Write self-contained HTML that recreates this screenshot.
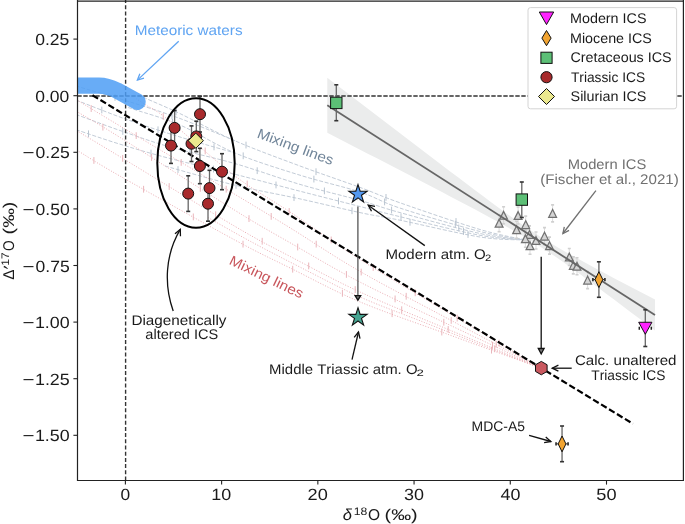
<!DOCTYPE html>
<html><head><meta charset="utf-8"><style>
html,body{margin:0;padding:0;background:#fff;}
body{width:685px;height:524px;overflow:hidden;position:relative;font-family:"Liberation Sans",sans-serif;}
svg{position:absolute;left:0;top:0;}
svg text{font-family:"Liberation Sans",sans-serif;text-rendering:geometricPrecision;font-kerning:none;}
svg{-webkit-font-smoothing:antialiased;will-change:transform;}
</style></head><body>
<svg width="685" height="524" viewBox="0 0 685 524">
<defs><clipPath id="pc"><rect x="77.5" y="0" width="606" height="480.5"/></clipPath></defs>
<rect width="685" height="524" fill="#fff"/>
<g clip-path="url(#pc)">
<polygon fill="#ebecec" points="327.3,77.64 335.49,83.91 343.69,90.18 351.88,96.45 360.07,102.72 368.26,108.99 376.45,115.25 384.65,121.51 392.84,127.77 401.03,134.02 409.23,140.27 417.42,146.52 425.61,152.76 433.8,158.99 442,165.21 450.19,171.42 458.38,177.62 466.57,183.79 474.76,189.95 482.96,196.08 491.15,202.16 499.34,208.19 507.53,214.15 515.73,220.01 523.92,225.73 532.11,231.28 540.3,236.63 548.5,241.76 556.69,246.69 564.88,251.45 573.08,256.08 581.27,260.61 589.46,265.07 597.65,269.47 605.85,273.84 614.04,278.18 622.23,282.49 630.42,286.79 638.62,291.07 646.81,295.34 655,299.61 655,330.58 646.81,324.35 638.62,318.12 630.42,311.91 622.23,305.71 614.04,299.53 605.85,293.38 597.65,287.25 589.46,281.16 581.27,275.12 573.08,269.16 564.88,263.29 556.69,257.56 548.5,251.99 540.3,246.63 532.11,241.48 523.92,236.54 515.73,231.77 507.53,227.13 499.34,222.59 491.15,218.13 482.96,213.72 474.76,209.35 466.57,205.01 458.38,200.7 450.19,196.4 442,192.12 433.8,187.84 425.61,183.58 417.42,179.32 409.23,175.07 401.03,170.83 392.84,166.59 384.65,162.35 376.45,158.12 368.26,153.89 360.07,149.66 351.88,145.43 343.69,141.21 335.49,136.98 327.3,132.76"/>
<path d="M138,95 C139.3,95.57 138.8,95.3 145.8,98.4 C152.8,101.5 165.13,106.53 180,113.6 C194.87,120.67 215,132.07 235,140.8 C255,149.53 279.17,158.23 300,166 C320.83,173.77 343.33,181.27 360,187.4 C376.67,193.53 380,195.78 400,202.8 C420,209.82 459,223.3 480,229.5 C501,235.7 518.33,238.25 526,240" fill="none" stroke="#c3ccd7" stroke-width="1" stroke-dasharray="4 1.7"/>
<path d="M128,107.5 C129.22,107.88 126.63,106.88 135.3,109.8 C143.97,112.72 163.38,117.8 180,125 C196.62,132.2 215,144.63 235,153 C255,161.37 279.17,168.7 300,175.2 C320.83,181.7 343.33,186.52 360,192 C376.67,197.48 380,201.52 400,208.1 C420,214.68 459,226.18 480,231.5 C501,236.82 518.33,238.58 526,240" fill="none" stroke="#c3ccd7" stroke-width="1" stroke-dasharray="4 1.7"/>
<path d="M60,108.6 C62.83,109.63 67,111.15 77,114.8 C87,118.45 104.5,125.13 120,130.5 C135.5,135.87 150.83,141.48 170,147 C189.17,152.52 213.33,157.37 235,163.6 C256.67,169.83 279.17,178.27 300,184.4 C320.83,190.53 343.33,195.7 360,200.4 C376.67,205.1 380,207.08 400,212.6 C420,218.12 459,228.93 480,233.5 C501,238.07 518.33,238.92 526,240" fill="none" stroke="#c3ccd7" stroke-width="1" stroke-dasharray="4 1.7"/>
<path d="M60,124.2 C62.83,125.17 67,126.67 77,130 C87,133.33 104.5,139.45 120,144.2 C135.5,148.95 150.83,153.48 170,158.5 C189.17,163.52 213.33,168.85 235,174.3 C256.67,179.75 279.17,185.83 300,191.2 C320.83,196.57 343.33,202.25 360,206.5 C376.67,210.75 380,211.9 400,216.7 C420,221.5 459,231.42 480,235.3 C501,239.18 518.33,239.22 526,240" fill="none" stroke="#c3ccd7" stroke-width="1" stroke-dasharray="4 1.7"/>
<path d="M165,166 C176.67,169.2 212.5,179.72 235,185.2 C257.5,190.68 279.17,194.33 300,198.9 C320.83,203.47 343.33,209.05 360,212.6 C376.67,216.15 380,216.13 400,220.2 C420,224.27 459,233.7 480,237 C501,240.3 518.33,239.5 526,240" fill="none" stroke="#c3ccd7" stroke-width="1" stroke-dasharray="4 1.7"/>
<path d="M60,79.5 C62.83,80.62 65.83,82.62 77,86.2 C88.17,89.78 109.83,95.62 127,101 C144.17,106.38 162,111.87 180,118.5 C198,125.13 225.83,137.08 235,140.8" fill="none" stroke="#c3ccd7" stroke-width="1" stroke-dasharray="4 1.7"/>
<path d="M60,94.2 C62.83,95.25 65.83,96.27 77,100.5 C88.17,104.73 109.83,113.52 127,119.6 C144.17,125.68 162,131.43 180,137 C198,142.57 225.83,150.33 235,153" fill="none" stroke="#c3ccd7" stroke-width="1" stroke-dasharray="4 1.7"/>
<path d="M136,98.5 C137.63,99.58 140.52,101.52 145.8,105 C151.08,108.48 152.83,107.57 167.7,119.4 C182.57,131.23 214.62,160.57 235,176 C255.38,191.43 269.17,198.08 290,212 C310.83,225.92 333.33,242.53 360,259.5 C386.67,276.47 419.8,295.68 450,313.8 C480.2,331.92 526,359.13 541.2,368.2" fill="none" stroke="#ebb3b9" stroke-width="1" stroke-dasharray="1.1 1.6"/>
<path d="M60,89.6 C62.83,91.33 67,93.93 77,100 C87,106.07 93.67,110.27 120,126 C146.33,141.73 206.67,177.43 235,194.4 C263.33,211.37 269.17,214.97 290,227.8 C310.83,240.63 333.33,256.07 360,271.4 C386.67,286.73 419.8,303.67 450,319.8 C480.2,335.93 526,360.13 541.2,368.2" fill="none" stroke="#ebb3b9" stroke-width="1" stroke-dasharray="1.1 1.6"/>
<path d="M60,101.2 C62.83,102.93 67,105.57 77,111.6 C87,117.63 93.67,120.93 120,137.4 C146.33,153.87 206.67,192.85 235,210.4 C263.33,227.95 269.17,230.75 290,242.7 C310.83,254.65 333.33,268.35 360,282.1 C386.67,295.85 419.8,310.85 450,325.2 C480.2,339.55 526,361.03 541.2,368.2" fill="none" stroke="#ebb3b9" stroke-width="1" stroke-dasharray="1.1 1.6"/>
<path d="M60,120.6 C62.83,122.32 67,124.88 77,130.9 C87,136.92 93.67,140.78 120,156.7 C146.33,172.62 206.67,209.78 235,226.4 C263.33,243.02 269.17,245.47 290,256.4 C310.83,267.33 333.33,279.7 360,292 C386.67,304.3 419.8,317.5 450,330.2 C480.2,342.9 526,361.87 541.2,368.2" fill="none" stroke="#ebb3b9" stroke-width="1" stroke-dasharray="1.1 1.6"/>
<path d="M60,140.5 C62.83,142.13 67,144.37 77,150.3 C87,156.23 93.67,161.13 120,176.1 C146.33,191.07 206.67,224.8 235,240.1 C263.33,255.4 269.17,257.6 290,267.9 C310.83,278.2 333.33,290.7 360,301.9 C386.67,313.1 419.8,324.05 450,335.1 C480.2,346.15 526,362.68 541.2,368.2" fill="none" stroke="#ebb3b9" stroke-width="1" stroke-dasharray="1.1 1.6"/>
<path d="M208,217.55 C215,221.48 234.67,232.87 250,241.13 C265.33,249.39 281.67,257.82 300,267.12 C318.33,276.42 340,288.01 360,296.95 C380,305.89 400,312.85 420,320.75 C440,328.65 463.33,337.81 480,344.34 C496.67,350.88 509.8,355.96 520,359.94 C530.2,363.91 537.67,366.82 541.2,368.2" fill="none" stroke="#ebb3b9" stroke-width="1" stroke-dasharray="1.1 1.6"/>
<line x1="456" y1="218.09" x2="456" y2="224.89" stroke="#b9c4d0" stroke-width="1"/>
<line x1="386" y1="194.01" x2="386" y2="200.81" stroke="#b9c4d0" stroke-width="1"/>
<line x1="316" y1="168.31" x2="316" y2="175.11" stroke="#b9c4d0" stroke-width="1"/>
<line x1="246" y1="141.66" x2="246" y2="148.46" stroke="#b9c4d0" stroke-width="1"/>
<line x1="176" y1="108.42" x2="176" y2="115.22" stroke="#b9c4d0" stroke-width="1"/>
<line x1="455.3" y1="220.88" x2="455.3" y2="227.68" stroke="#b9c4d0" stroke-width="1"/>
<line x1="384.6" y1="198.5" x2="384.6" y2="205.3" stroke="#b9c4d0" stroke-width="1"/>
<line x1="313.9" y1="175.69" x2="313.9" y2="182.49" stroke="#b9c4d0" stroke-width="1"/>
<line x1="243.2" y1="152.4" x2="243.2" y2="159.2" stroke="#b9c4d0" stroke-width="1"/>
<line x1="172.5" y1="119.05" x2="172.5" y2="125.85" stroke="#b9c4d0" stroke-width="1"/>
<line x1="458.8" y1="224.56" x2="458.8" y2="231.36" stroke="#b9c4d0" stroke-width="1"/>
<line x1="391.6" y1="206.64" x2="391.6" y2="213.44" stroke="#b9c4d0" stroke-width="1"/>
<line x1="324.4" y1="187.51" x2="324.4" y2="194.31" stroke="#b9c4d0" stroke-width="1"/>
<line x1="257.2" y1="167.3" x2="257.2" y2="174.1" stroke="#b9c4d0" stroke-width="1"/>
<line x1="190" y1="148.71" x2="190" y2="155.51" stroke="#b9c4d0" stroke-width="1"/>
<line x1="122.8" y1="128.02" x2="122.8" y2="134.82" stroke="#b9c4d0" stroke-width="1"/>
<line x1="463.5" y1="228.06" x2="463.5" y2="234.86" stroke="#b9c4d0" stroke-width="1"/>
<line x1="401" y1="213.53" x2="401" y2="220.33" stroke="#b9c4d0" stroke-width="1"/>
<line x1="338.5" y1="197.62" x2="338.5" y2="204.42" stroke="#b9c4d0" stroke-width="1"/>
<line x1="276" y1="181.56" x2="276" y2="188.36" stroke="#b9c4d0" stroke-width="1"/>
<line x1="213.5" y1="165.67" x2="213.5" y2="172.47" stroke="#b9c4d0" stroke-width="1"/>
<line x1="151" y1="149.67" x2="151" y2="156.47" stroke="#b9c4d0" stroke-width="1"/>
<line x1="88.5" y1="130.4" x2="88.5" y2="137.2" stroke="#b9c4d0" stroke-width="1"/>
<line x1="468" y1="231.08" x2="468" y2="237.88" stroke="#b9c4d0" stroke-width="1"/>
<line x1="410" y1="218.9" x2="410" y2="225.7" stroke="#b9c4d0" stroke-width="1"/>
<line x1="352" y1="207.37" x2="352" y2="214.17" stroke="#b9c4d0" stroke-width="1"/>
<line x1="294" y1="194.24" x2="294" y2="201.04" stroke="#b9c4d0" stroke-width="1"/>
<line x1="236" y1="182.01" x2="236" y2="188.81" stroke="#b9c4d0" stroke-width="1"/>
<line x1="178" y1="166.17" x2="178" y2="172.97" stroke="#b9c4d0" stroke-width="1"/>
<line x1="115" y1="94.05" x2="115" y2="100.85" stroke="#b9c4d0" stroke-width="1"/>
<line x1="172" y1="112.46" x2="172" y2="119.26" stroke="#b9c4d0" stroke-width="1"/>
<line x1="101.8" y1="106.57" x2="101.8" y2="113.37" stroke="#b9c4d0" stroke-width="1"/>
<line x1="158" y1="126.38" x2="158" y2="133.18" stroke="#b9c4d0" stroke-width="1"/>
<line x1="214" y1="143.49" x2="214" y2="150.29" stroke="#b9c4d0" stroke-width="1"/>
<line x1="499.2" y1="339.75" x2="499.2" y2="346.55" stroke="#eab5bb" stroke-width="1"/>
<line x1="457.2" y1="314.69" x2="457.2" y2="321.49" stroke="#eab5bb" stroke-width="1"/>
<line x1="415.2" y1="289.4" x2="415.2" y2="296.2" stroke="#eab5bb" stroke-width="1"/>
<line x1="373.2" y1="264.06" x2="373.2" y2="270.86" stroke="#eab5bb" stroke-width="1"/>
<line x1="331.2" y1="236.56" x2="331.2" y2="243.36" stroke="#eab5bb" stroke-width="1"/>
<line x1="289.2" y1="208.08" x2="289.2" y2="214.88" stroke="#eab5bb" stroke-width="1"/>
<line x1="247.2" y1="180.59" x2="247.2" y2="187.39" stroke="#eab5bb" stroke-width="1"/>
<line x1="205.2" y1="147.54" x2="205.2" y2="154.34" stroke="#eab5bb" stroke-width="1"/>
<line x1="163.2" y1="113.04" x2="163.2" y2="119.84" stroke="#eab5bb" stroke-width="1"/>
<line x1="496.2" y1="340.92" x2="496.2" y2="347.72" stroke="#eab5bb" stroke-width="1"/>
<line x1="451.2" y1="317.04" x2="451.2" y2="323.84" stroke="#eab5bb" stroke-width="1"/>
<line x1="406.2" y1="292.85" x2="406.2" y2="299.65" stroke="#eab5bb" stroke-width="1"/>
<line x1="361.2" y1="268.65" x2="361.2" y2="275.45" stroke="#eab5bb" stroke-width="1"/>
<line x1="316.2" y1="240.72" x2="316.2" y2="247.52" stroke="#eab5bb" stroke-width="1"/>
<line x1="271.2" y1="212.98" x2="271.2" y2="219.78" stroke="#eab5bb" stroke-width="1"/>
<line x1="226.2" y1="185.77" x2="226.2" y2="192.57" stroke="#eab5bb" stroke-width="1"/>
<line x1="181.2" y1="159" x2="181.2" y2="165.8" stroke="#eab5bb" stroke-width="1"/>
<line x1="136.2" y1="132.24" x2="136.2" y2="139.04" stroke="#eab5bb" stroke-width="1"/>
<line x1="91.2" y1="105.19" x2="91.2" y2="111.99" stroke="#eab5bb" stroke-width="1"/>
<line x1="492.5" y1="341.84" x2="492.5" y2="348.64" stroke="#eab5bb" stroke-width="1"/>
<line x1="443.8" y1="318.83" x2="443.8" y2="325.63" stroke="#eab5bb" stroke-width="1"/>
<line x1="395.1" y1="295.51" x2="395.1" y2="302.31" stroke="#eab5bb" stroke-width="1"/>
<line x1="346.4" y1="271.05" x2="346.4" y2="277.85" stroke="#eab5bb" stroke-width="1"/>
<line x1="297.7" y1="243.63" x2="297.7" y2="250.43" stroke="#eab5bb" stroke-width="1"/>
<line x1="249" y1="215.22" x2="249" y2="222.02" stroke="#eab5bb" stroke-width="1"/>
<line x1="200.3" y1="184.97" x2="200.3" y2="191.77" stroke="#eab5bb" stroke-width="1"/>
<line x1="151.6" y1="154.06" x2="151.6" y2="160.86" stroke="#eab5bb" stroke-width="1"/>
<line x1="102.9" y1="123.74" x2="102.9" y2="130.54" stroke="#eab5bb" stroke-width="1"/>
<line x1="494.7" y1="345.43" x2="494.7" y2="352.22" stroke="#eab5bb" stroke-width="1"/>
<line x1="448.2" y1="326.04" x2="448.2" y2="332.84" stroke="#eab5bb" stroke-width="1"/>
<line x1="401.7" y1="306.3" x2="401.7" y2="313.1" stroke="#eab5bb" stroke-width="1"/>
<line x1="355.2" y1="286.16" x2="355.2" y2="292.96" stroke="#eab5bb" stroke-width="1"/>
<line x1="308.7" y1="262.51" x2="308.7" y2="269.31" stroke="#eab5bb" stroke-width="1"/>
<line x1="262.2" y1="237.84" x2="262.2" y2="244.64" stroke="#eab5bb" stroke-width="1"/>
<line x1="215.7" y1="211.3" x2="215.7" y2="218.1" stroke="#eab5bb" stroke-width="1"/>
<line x1="169.2" y1="183.12" x2="169.2" y2="189.92" stroke="#eab5bb" stroke-width="1"/>
<line x1="122.7" y1="154.94" x2="122.7" y2="161.74" stroke="#eab5bb" stroke-width="1"/>
<line x1="76.2" y1="127.02" x2="76.2" y2="133.82" stroke="#eab5bb" stroke-width="1"/>
<line x1="491.5" y1="346.76" x2="491.5" y2="353.56" stroke="#eab5bb" stroke-width="1"/>
<line x1="441.8" y1="328.68" x2="441.8" y2="335.48" stroke="#eab5bb" stroke-width="1"/>
<line x1="392.1" y1="310.34" x2="392.1" y2="317.14" stroke="#eab5bb" stroke-width="1"/>
<line x1="342.4" y1="289.95" x2="342.4" y2="296.75" stroke="#eab5bb" stroke-width="1"/>
<line x1="292.7" y1="265.81" x2="292.7" y2="272.61" stroke="#eab5bb" stroke-width="1"/>
<line x1="243" y1="240.74" x2="243" y2="247.54" stroke="#eab5bb" stroke-width="1"/>
<line x1="193.3" y1="213.49" x2="193.3" y2="220.29" stroke="#eab5bb" stroke-width="1"/>
<line x1="143.6" y1="185.83" x2="143.6" y2="192.63" stroke="#eab5bb" stroke-width="1"/>
<line x1="93.9" y1="157.04" x2="93.9" y2="163.84" stroke="#eab5bb" stroke-width="1"/>
<line x1="77.3" y1="96" x2="684" y2="96" stroke="#333" stroke-width="1.4" stroke-dasharray="4.4 1.6"/>
<line x1="125.6" y1="480.5" x2="125.6" y2="0" stroke="#333" stroke-width="1.4" stroke-dasharray="4 2.2"/>
<line x1="92.5" y1="95.2" x2="633" y2="423.8" stroke="#000" stroke-width="2.2" stroke-dasharray="6.5 2.8"/>
<path d="M60,85.6 L99,85.6 C106,85.6 110,87 117,90.5 L137.5,101.8" fill="none" stroke="#4d9df4" stroke-opacity="0.85" stroke-width="16.4" stroke-linecap="round" stroke-linejoin="round"/>
<line x1="503.6" y1="206.8" x2="503.6" y2="223.8" stroke="#d2d2d2" stroke-width="0.8"/>
<line x1="502.1" y1="206.8" x2="505.1" y2="206.8" stroke="#d0d0d0" stroke-width="1.6"/>
<line x1="502.1" y1="223.8" x2="505.1" y2="223.8" stroke="#d0d0d0" stroke-width="1.6"/>
<line x1="499.1" y1="214.7" x2="499.1" y2="231.7" stroke="#d2d2d2" stroke-width="0.8"/>
<line x1="497.6" y1="214.7" x2="500.6" y2="214.7" stroke="#d0d0d0" stroke-width="1.6"/>
<line x1="497.6" y1="231.7" x2="500.6" y2="231.7" stroke="#d0d0d0" stroke-width="1.6"/>
<line x1="518.1" y1="207" x2="518.1" y2="224" stroke="#d2d2d2" stroke-width="0.8"/>
<line x1="516.6" y1="207" x2="519.6" y2="207" stroke="#d0d0d0" stroke-width="1.6"/>
<line x1="516.6" y1="224" x2="519.6" y2="224" stroke="#d0d0d0" stroke-width="1.6"/>
<line x1="552.6" y1="204.9" x2="552.6" y2="221.9" stroke="#d2d2d2" stroke-width="0.8"/>
<line x1="551.1" y1="204.9" x2="554.1" y2="204.9" stroke="#d0d0d0" stroke-width="1.6"/>
<line x1="551.1" y1="221.9" x2="554.1" y2="221.9" stroke="#d0d0d0" stroke-width="1.6"/>
<line x1="525.7" y1="216.1" x2="525.7" y2="233.1" stroke="#d2d2d2" stroke-width="0.8"/>
<line x1="524.2" y1="216.1" x2="527.2" y2="216.1" stroke="#d0d0d0" stroke-width="1.6"/>
<line x1="524.2" y1="233.1" x2="527.2" y2="233.1" stroke="#d0d0d0" stroke-width="1.6"/>
<line x1="516.6" y1="221.2" x2="516.6" y2="238.2" stroke="#d2d2d2" stroke-width="0.8"/>
<line x1="515.1" y1="221.2" x2="518.1" y2="221.2" stroke="#d0d0d0" stroke-width="1.6"/>
<line x1="515.1" y1="238.2" x2="518.1" y2="238.2" stroke="#d0d0d0" stroke-width="1.6"/>
<line x1="529.5" y1="225.9" x2="529.5" y2="242.9" stroke="#d2d2d2" stroke-width="0.8"/>
<line x1="528" y1="225.9" x2="531" y2="225.9" stroke="#d0d0d0" stroke-width="1.6"/>
<line x1="528" y1="242.9" x2="531" y2="242.9" stroke="#d0d0d0" stroke-width="1.6"/>
<line x1="525.4" y1="230.3" x2="525.4" y2="247.3" stroke="#d2d2d2" stroke-width="0.8"/>
<line x1="523.9" y1="230.3" x2="526.9" y2="230.3" stroke="#d0d0d0" stroke-width="1.6"/>
<line x1="523.9" y1="247.3" x2="526.9" y2="247.3" stroke="#d0d0d0" stroke-width="1.6"/>
<line x1="536" y1="232" x2="536" y2="249" stroke="#d2d2d2" stroke-width="0.8"/>
<line x1="534.5" y1="232" x2="537.5" y2="232" stroke="#d0d0d0" stroke-width="1.6"/>
<line x1="534.5" y1="249" x2="537.5" y2="249" stroke="#d0d0d0" stroke-width="1.6"/>
<line x1="530" y1="237.2" x2="530" y2="254.2" stroke="#d2d2d2" stroke-width="0.8"/>
<line x1="528.5" y1="237.2" x2="531.5" y2="237.2" stroke="#d0d0d0" stroke-width="1.6"/>
<line x1="528.5" y1="254.2" x2="531.5" y2="254.2" stroke="#d0d0d0" stroke-width="1.6"/>
<line x1="544.5" y1="227.6" x2="544.5" y2="244.6" stroke="#d2d2d2" stroke-width="0.8"/>
<line x1="543" y1="227.6" x2="546" y2="227.6" stroke="#d0d0d0" stroke-width="1.6"/>
<line x1="543" y1="244.6" x2="546" y2="244.6" stroke="#d0d0d0" stroke-width="1.6"/>
<line x1="549.5" y1="237.1" x2="549.5" y2="254.1" stroke="#d2d2d2" stroke-width="0.8"/>
<line x1="548" y1="237.1" x2="551" y2="237.1" stroke="#d0d0d0" stroke-width="1.6"/>
<line x1="548" y1="254.1" x2="551" y2="254.1" stroke="#d0d0d0" stroke-width="1.6"/>
<line x1="569.3" y1="248.5" x2="569.3" y2="265.5" stroke="#d2d2d2" stroke-width="0.8"/>
<line x1="567.8" y1="248.5" x2="570.8" y2="248.5" stroke="#d0d0d0" stroke-width="1.6"/>
<line x1="567.8" y1="265.5" x2="570.8" y2="265.5" stroke="#d0d0d0" stroke-width="1.6"/>
<line x1="573.3" y1="256.9" x2="573.3" y2="273.9" stroke="#d2d2d2" stroke-width="0.8"/>
<line x1="571.8" y1="256.9" x2="574.8" y2="256.9" stroke="#d0d0d0" stroke-width="1.6"/>
<line x1="571.8" y1="273.9" x2="574.8" y2="273.9" stroke="#d0d0d0" stroke-width="1.6"/>
<line x1="577" y1="257.8" x2="577" y2="274.8" stroke="#d2d2d2" stroke-width="0.8"/>
<line x1="575.5" y1="257.8" x2="578.5" y2="257.8" stroke="#d0d0d0" stroke-width="1.6"/>
<line x1="575.5" y1="274.8" x2="578.5" y2="274.8" stroke="#d0d0d0" stroke-width="1.6"/>
<line x1="587.6" y1="271.6" x2="587.6" y2="288.6" stroke="#d2d2d2" stroke-width="0.8"/>
<line x1="586.1" y1="271.6" x2="589.1" y2="271.6" stroke="#d0d0d0" stroke-width="1.6"/>
<line x1="586.1" y1="288.6" x2="589.1" y2="288.6" stroke="#d0d0d0" stroke-width="1.6"/>
<polygon points="503.6,211.4 499.7,219.2 507.5,219.2" fill="#d5d5d5" stroke="#727272" stroke-width="1.25"/>
<polygon points="499.1,219.3 495.2,227.1 503,227.1" fill="#d5d5d5" stroke="#727272" stroke-width="1.25"/>
<polygon points="518.1,211.6 514.2,219.4 522,219.4" fill="#d5d5d5" stroke="#727272" stroke-width="1.25"/>
<polygon points="552.6,209.5 548.7,217.3 556.5,217.3" fill="#d5d5d5" stroke="#727272" stroke-width="1.25"/>
<polygon points="525.7,220.7 521.8,228.5 529.6,228.5" fill="#d5d5d5" stroke="#727272" stroke-width="1.25"/>
<polygon points="516.6,225.8 512.7,233.6 520.5,233.6" fill="#d5d5d5" stroke="#727272" stroke-width="1.25"/>
<polygon points="529.5,230.5 525.6,238.3 533.4,238.3" fill="#d5d5d5" stroke="#727272" stroke-width="1.25"/>
<polygon points="525.4,234.9 521.5,242.7 529.3,242.7" fill="#d5d5d5" stroke="#727272" stroke-width="1.25"/>
<polygon points="536,236.6 532.1,244.4 539.9,244.4" fill="#d5d5d5" stroke="#727272" stroke-width="1.25"/>
<polygon points="530,241.8 526.1,249.6 533.9,249.6" fill="#d5d5d5" stroke="#727272" stroke-width="1.25"/>
<polygon points="544.5,232.2 540.6,240 548.4,240" fill="#d5d5d5" stroke="#727272" stroke-width="1.25"/>
<polygon points="549.5,241.7 545.6,249.5 553.4,249.5" fill="#d5d5d5" stroke="#727272" stroke-width="1.25"/>
<polygon points="569.3,253.1 565.4,260.9 573.2,260.9" fill="#d5d5d5" stroke="#727272" stroke-width="1.25"/>
<polygon points="573.3,261.5 569.4,269.3 577.2,269.3" fill="#d5d5d5" stroke="#727272" stroke-width="1.25"/>
<polygon points="577,262.4 573.1,270.2 580.9,270.2" fill="#d5d5d5" stroke="#727272" stroke-width="1.25"/>
<polygon points="587.6,276.2 583.7,284 591.5,284" fill="#d5d5d5" stroke="#727272" stroke-width="1.25"/>
<line x1="327.3" y1="105.2" x2="655" y2="315.1" stroke="#666" stroke-width="1.8"/>
</g>
<line x1="200" y1="96.4" x2="200" y2="132" stroke="#666" stroke-width="1.3"/>
<line x1="198" y1="96.4" x2="202" y2="96.4" stroke="#333" stroke-width="1.6"/>
<line x1="198" y1="132" x2="202" y2="132" stroke="#333" stroke-width="1.6"/>
<line x1="174.6" y1="110.5" x2="174.6" y2="145.3" stroke="#666" stroke-width="1.3"/>
<line x1="172.6" y1="110.5" x2="176.6" y2="110.5" stroke="#333" stroke-width="1.6"/>
<line x1="172.6" y1="145.3" x2="176.6" y2="145.3" stroke="#333" stroke-width="1.6"/>
<line x1="171" y1="127.8" x2="171" y2="163.4" stroke="#666" stroke-width="1.3"/>
<line x1="169" y1="127.8" x2="173" y2="127.8" stroke="#333" stroke-width="1.6"/>
<line x1="169" y1="163.4" x2="173" y2="163.4" stroke="#333" stroke-width="1.6"/>
<line x1="196.3" y1="121.2" x2="196.3" y2="151.6" stroke="#666" stroke-width="1.3"/>
<line x1="194.3" y1="121.2" x2="198.3" y2="121.2" stroke="#333" stroke-width="1.6"/>
<line x1="194.3" y1="151.6" x2="198.3" y2="151.6" stroke="#333" stroke-width="1.6"/>
<line x1="191.5" y1="125.9" x2="191.5" y2="161.5" stroke="#666" stroke-width="1.3"/>
<line x1="189.5" y1="125.9" x2="193.5" y2="125.9" stroke="#333" stroke-width="1.6"/>
<line x1="189.5" y1="161.5" x2="193.5" y2="161.5" stroke="#333" stroke-width="1.6"/>
<line x1="199.9" y1="148.3" x2="199.9" y2="183.7" stroke="#666" stroke-width="1.3"/>
<line x1="197.9" y1="148.3" x2="201.9" y2="148.3" stroke="#333" stroke-width="1.6"/>
<line x1="197.9" y1="183.7" x2="201.9" y2="183.7" stroke="#333" stroke-width="1.6"/>
<line x1="222" y1="153.7" x2="222" y2="189.7" stroke="#666" stroke-width="1.3"/>
<line x1="220" y1="153.7" x2="224" y2="153.7" stroke="#333" stroke-width="1.6"/>
<line x1="220" y1="189.7" x2="224" y2="189.7" stroke="#333" stroke-width="1.6"/>
<line x1="188.2" y1="175.8" x2="188.2" y2="211.4" stroke="#666" stroke-width="1.3"/>
<line x1="186.2" y1="175.8" x2="190.2" y2="175.8" stroke="#333" stroke-width="1.6"/>
<line x1="186.2" y1="211.4" x2="190.2" y2="211.4" stroke="#333" stroke-width="1.6"/>
<line x1="209.5" y1="170.3" x2="209.5" y2="205.9" stroke="#666" stroke-width="1.3"/>
<line x1="207.5" y1="170.3" x2="211.5" y2="170.3" stroke="#333" stroke-width="1.6"/>
<line x1="207.5" y1="205.9" x2="211.5" y2="205.9" stroke="#333" stroke-width="1.6"/>
<line x1="208" y1="186.2" x2="208" y2="221.2" stroke="#666" stroke-width="1.3"/>
<line x1="206" y1="186.2" x2="210" y2="186.2" stroke="#333" stroke-width="1.6"/>
<line x1="206" y1="221.2" x2="210" y2="221.2" stroke="#333" stroke-width="1.6"/>
<circle cx="200" cy="114.2" r="5.5" fill="#a82a2c" stroke="#111" stroke-width="1"/>
<circle cx="174.6" cy="127.9" r="5.5" fill="#a82a2c" stroke="#111" stroke-width="1"/>
<circle cx="171" cy="145.6" r="5.5" fill="#a82a2c" stroke="#111" stroke-width="1"/>
<circle cx="196.3" cy="136.4" r="5.5" fill="#a82a2c" stroke="#111" stroke-width="1"/>
<circle cx="191.5" cy="143.7" r="5.5" fill="#a82a2c" stroke="#111" stroke-width="1"/>
<circle cx="199.9" cy="166" r="5.5" fill="#a82a2c" stroke="#111" stroke-width="1"/>
<circle cx="222" cy="171.7" r="5.5" fill="#a82a2c" stroke="#111" stroke-width="1"/>
<circle cx="188.2" cy="193.6" r="5.5" fill="#a82a2c" stroke="#111" stroke-width="1"/>
<circle cx="209.5" cy="188.1" r="5.5" fill="#a82a2c" stroke="#111" stroke-width="1"/>
<circle cx="208" cy="203.7" r="5.5" fill="#a82a2c" stroke="#111" stroke-width="1"/>
<polygon points="195.8,133.1 203.4,140.7 195.8,148.3 188.2,140.7" fill="#ebe88e" stroke="#111" stroke-width="1"/>
<line x1="336.3" y1="84.8" x2="336.3" y2="120.7" stroke="#666" stroke-width="1.3"/>
<line x1="334.3" y1="84.8" x2="338.3" y2="84.8" stroke="#333" stroke-width="1.6"/>
<line x1="334.3" y1="120.7" x2="338.3" y2="120.7" stroke="#333" stroke-width="1.6"/>
<rect x="330.6" y="97.2" width="11.4" height="11.4" fill="#5cbf76" stroke="#111" stroke-width="1"/>
<line x1="521.8" y1="182" x2="521.8" y2="217.5" stroke="#666" stroke-width="1.3"/>
<line x1="519.8" y1="182" x2="523.8" y2="182" stroke="#333" stroke-width="1.6"/>
<line x1="519.8" y1="217.5" x2="523.8" y2="217.5" stroke="#333" stroke-width="1.6"/>
<rect x="516.1" y="193.9" width="11.4" height="11.4" fill="#5cbf76" stroke="#111" stroke-width="1"/>
<line x1="598.9" y1="261.8" x2="598.9" y2="297.3" stroke="#666" stroke-width="1.3"/>
<line x1="596.9" y1="261.8" x2="600.9" y2="261.8" stroke="#333" stroke-width="1.6"/>
<line x1="596.9" y1="297.3" x2="600.9" y2="297.3" stroke="#333" stroke-width="1.6"/>
<line x1="592.9" y1="278" x2="592.9" y2="281.2" stroke="#222" stroke-width="1.6"/>
<line x1="604.9" y1="278" x2="604.9" y2="281.2" stroke="#222" stroke-width="1.6"/>
<line x1="592.9" y1="279.6" x2="604.9" y2="279.6" stroke="#333" stroke-width="1"/>
<polygon points="598.9,271.7 602.8,279.6 598.9,287.5 595,279.6" fill="#f2a431" stroke="#111" stroke-width="1"/>
<line x1="562.05" y1="426" x2="562.05" y2="461.7" stroke="#666" stroke-width="1.3"/>
<line x1="560.05" y1="426" x2="564.05" y2="426" stroke="#333" stroke-width="1.6"/>
<line x1="560.05" y1="461.7" x2="564.05" y2="461.7" stroke="#333" stroke-width="1.6"/>
<line x1="556.05" y1="442.3" x2="556.05" y2="445.5" stroke="#222" stroke-width="1.6"/>
<line x1="568.05" y1="442.3" x2="568.05" y2="445.5" stroke="#222" stroke-width="1.6"/>
<line x1="556.05" y1="443.9" x2="568.05" y2="443.9" stroke="#333" stroke-width="1"/>
<polygon points="562.05,436 565.95,443.9 562.05,451.8 558.15,443.9" fill="#f2a431" stroke="#111" stroke-width="1"/>
<line x1="645.3" y1="309.8" x2="645.3" y2="346.5" stroke="#666" stroke-width="1.3"/>
<line x1="643.3" y1="309.8" x2="647.3" y2="309.8" stroke="#333" stroke-width="1.6"/>
<line x1="643.3" y1="346.5" x2="647.3" y2="346.5" stroke="#333" stroke-width="1.6"/>
<line x1="639.3" y1="326.75" x2="639.3" y2="329.75" stroke="#222" stroke-width="1.5"/>
<line x1="651.3" y1="326.75" x2="651.3" y2="329.75" stroke="#222" stroke-width="1.5"/>
<polygon points="638.7,322.25 651.9,322.25 645.3,334.25" fill="#ff22ff" stroke="#111" stroke-width="1"/>
<polygon points="358,184.6 360.16,191.23 367.13,191.23 361.49,195.33 363.64,201.97 358,197.87 352.36,201.97 354.51,195.33 348.87,191.23 355.84,191.23" fill="#5398f0" stroke="#111" stroke-width="1.1" stroke-linejoin="miter"/>
<polygon points="358,307.7 360.16,314.33 367.13,314.33 361.49,318.43 363.64,325.07 358,320.97 352.36,325.07 354.51,318.43 348.87,314.33 355.84,314.33" fill="#46a592" stroke="#111" stroke-width="1.1" stroke-linejoin="miter"/>
<polygon points="541.3,361.4 547.1,364.75 547.1,371.45 541.3,374.8 535.5,371.45 535.5,364.75" fill="#c9585f" stroke="#111" stroke-width="1"/>
<ellipse cx="196" cy="163" rx="38.7" ry="64.8" fill="none" stroke="#000" stroke-width="2"/>
<line x1="178.7" y1="41.3" x2="137.4" y2="80.1" stroke="#5fa4f2" stroke-width="1.3"/>
<polyline points="139.86,73.67 137.4,80.1 143.97,78.04" fill="none" stroke="#5fa4f2" stroke-width="1.3" stroke-linejoin="miter"/>
<line x1="595.9" y1="190.6" x2="562.9" y2="233.5" stroke="#707070" stroke-width="1.3"/>
<polyline points="564.3,226.76 562.9,233.5 569.06,230.41" fill="none" stroke="#707070" stroke-width="1.3" stroke-linejoin="miter"/>
<line x1="424.8" y1="245.6" x2="368.2" y2="205.2" stroke="#111" stroke-width="1.3"/>
<polyline points="374.99,206.36 368.2,205.2 371.5,211.24" fill="none" stroke="#111" stroke-width="1.3" stroke-linejoin="miter"/>
<line x1="357.9" y1="206.6" x2="357.9" y2="295.5" stroke="#555" stroke-width="1.3"/>
<polygon points="355.1,295.6 360.7,295.6 357.9,300.2" fill="#777" stroke="#111" stroke-width="1.3" stroke-linejoin="miter"/>
<line x1="352" y1="359.6" x2="358.5" y2="332" stroke="#111" stroke-width="1.3"/>
<polyline points="360,338.72 358.5,332 354.16,337.35" fill="none" stroke="#111" stroke-width="1.3" stroke-linejoin="miter"/>
<line x1="541.2" y1="256.8" x2="541.2" y2="348.5" stroke="#111" stroke-width="1.3"/>
<polygon points="538.3,348.5 541.2,353.8 544.1,348.5" fill="#777" stroke="#111" stroke-width="1.3" stroke-linejoin="miter"/>
<line x1="571.7" y1="368.2" x2="552.2" y2="368.2" stroke="#111" stroke-width="1.3"/>
<polyline points="558.4,365.2 552.2,368.2 558.4,371.2" fill="none" stroke="#111" stroke-width="1.3" stroke-linejoin="miter"/>
<line x1="529.1" y1="435.4" x2="550.9" y2="441.5" stroke="#111" stroke-width="1.3"/>
<polyline points="544.12,442.72 550.9,441.5 545.74,436.94" fill="none" stroke="#111" stroke-width="1.3" stroke-linejoin="miter"/>
<path d="M173.2,311 C164,285 165,255 180.3,229.4" fill="none" stroke="#111" stroke-width="1.3"/>
<polyline points="180.43,236.29 180.3,229.4 174.98,233.77" fill="none" stroke="#111" stroke-width="1.3" stroke-linejoin="miter"/>
<text x="134.65" y="34.9" font-size="14" fill="#5fa4f2" textLength="107.91" lengthAdjust="spacingAndGlyphs">Meteoric waters</text>
<text x="567.69" y="169.4" font-size="14" fill="#707070" textLength="78.58" lengthAdjust="spacingAndGlyphs">Modern ICS</text>
<text x="540.26" y="183.9" font-size="14" fill="#707070" textLength="138.47" lengthAdjust="spacingAndGlyphs">(Fischer et al., 2021)</text>
<text x="385.47" y="258.7" font-size="14" fill="#1a1a1a" textLength="100.35" lengthAdjust="spacingAndGlyphs">Modern atm. O</text>
<text x="485.04" y="261" font-size="9.4" fill="#1a1a1a" textLength="6.23" lengthAdjust="spacingAndGlyphs">2</text>
<text x="131.45" y="325.4" font-size="14" fill="#1a1a1a" textLength="95.08" lengthAdjust="spacingAndGlyphs">Diagenetically</text>
<text x="145.38" y="339.3" font-size="14" fill="#1a1a1a" textLength="72.89" lengthAdjust="spacingAndGlyphs">altered ICS</text>
<text x="269.08" y="373.8" font-size="14" fill="#1a1a1a" textLength="148.44" lengthAdjust="spacingAndGlyphs">Middle Triassic atm. O</text>
<text x="416.64" y="376.1" font-size="9.4" fill="#1a1a1a" textLength="7.32" lengthAdjust="spacingAndGlyphs">2</text>
<text x="574.93" y="364.5" font-size="14" fill="#1a1a1a" textLength="101.54" lengthAdjust="spacingAndGlyphs">Calc. unaltered</text>
<text x="591.29" y="379.6" font-size="14" fill="#1a1a1a" textLength="74.14" lengthAdjust="spacingAndGlyphs">Triassic ICS</text>
<text x="471.56" y="430.7" font-size="14" fill="#1a1a1a" textLength="53.43" lengthAdjust="spacingAndGlyphs">MDC-A5</text>
<text x="-1.26" y="0" font-size="14" fill="#718599" textLength="80.32" lengthAdjust="spacingAndGlyphs" transform="translate(257.3,137.6) rotate(20.5)">Mixing lines</text>
<text x="-1.26" y="0" font-size="14" fill="#c8565c" textLength="80.32" lengthAdjust="spacingAndGlyphs" transform="translate(229.4,264.3) rotate(25.8)">Mixing lines</text>
<rect x="528" y="7.6" width="148.6" height="101.2" rx="2.5" ry="2.5" fill="#fff" stroke="#d4d4d4" stroke-width="1"/>
<text x="570.02" y="23.2" font-size="14" fill="#1a1a1a" textLength="76.43" lengthAdjust="spacingAndGlyphs">Modern ICS</text>
<text x="570.03" y="42.8" font-size="14" fill="#1a1a1a" textLength="81.83" lengthAdjust="spacingAndGlyphs">Miocene ICS</text>
<text x="570.47" y="61.9" font-size="14" fill="#1a1a1a" textLength="101.19" lengthAdjust="spacingAndGlyphs">Cretaceous ICS</text>
<text x="570.89" y="81.5" font-size="14" fill="#1a1a1a" textLength="74.24" lengthAdjust="spacingAndGlyphs">Triassic ICS</text>
<text x="570.55" y="100.5" font-size="14" fill="#1a1a1a" textLength="75.91" lengthAdjust="spacingAndGlyphs">Silurian ICS</text>
<polygon points="539.3,12 553.7,12 546.5,24.6" fill="#ff22ff" stroke="#111" stroke-width="1"/>
<polygon points="546.5,30.5 551.1,38.1 546.5,45.7 541.9,38.1" fill="#f2a431" stroke="#111" stroke-width="1"/>
<rect x="540.9" y="52.2" width="11.2" height="11.2" fill="#5cbf76" stroke="#111" stroke-width="1"/>
<circle cx="546.5" cy="77.2" r="5.6" fill="#a82a2c" stroke="#111" stroke-width="1"/>
<polygon points="546.5,88.5 554.5,96.5 546.5,104.5 538.5,96.5" fill="#ebe88e" stroke="#111" stroke-width="1"/>
<path d="M77.5,1.15 L683.4,1.15 M77.5,0 L77.5,481 M683.4,0 L683.4,481 M77,480.5 L684,480.5" fill="none" stroke="#222" stroke-width="1.2"/>
<line x1="73.4" y1="39.1" x2="77.5" y2="39.1" stroke="#222" stroke-width="1.1"/>
<text x="35.22" y="45.1" font-size="16.2" fill="#1a1a1a" textLength="34.12" lengthAdjust="spacingAndGlyphs">0.25</text>
<line x1="73.4" y1="95.7" x2="77.5" y2="95.7" stroke="#222" stroke-width="1.1"/>
<text x="35.22" y="101.7" font-size="16.2" fill="#1a1a1a" textLength="34.07" lengthAdjust="spacingAndGlyphs">0.00</text>
<line x1="73.4" y1="152.3" x2="77.5" y2="152.3" stroke="#222" stroke-width="1.1"/>
<text x="22.48" y="158.3" font-size="16.2" fill="#1a1a1a" textLength="12.02" lengthAdjust="spacingAndGlyphs">−</text>
<text x="35.62" y="158.3" font-size="16.2" fill="#1a1a1a" textLength="34.12" lengthAdjust="spacingAndGlyphs">0.25</text>
<line x1="73.4" y1="208.9" x2="77.5" y2="208.9" stroke="#222" stroke-width="1.1"/>
<text x="22.48" y="214.9" font-size="16.2" fill="#1a1a1a" textLength="12.02" lengthAdjust="spacingAndGlyphs">−</text>
<text x="35.62" y="214.9" font-size="16.2" fill="#1a1a1a" textLength="34.07" lengthAdjust="spacingAndGlyphs">0.50</text>
<line x1="73.4" y1="265.5" x2="77.5" y2="265.5" stroke="#222" stroke-width="1.1"/>
<text x="22.48" y="271.5" font-size="16.2" fill="#1a1a1a" textLength="12.02" lengthAdjust="spacingAndGlyphs">−</text>
<text x="35.62" y="271.5" font-size="16.2" fill="#1a1a1a" textLength="34.12" lengthAdjust="spacingAndGlyphs">0.75</text>
<line x1="73.4" y1="322.1" x2="77.5" y2="322.1" stroke="#222" stroke-width="1.1"/>
<text x="22.48" y="328.1" font-size="16.2" fill="#1a1a1a" textLength="12.02" lengthAdjust="spacingAndGlyphs">−</text>
<text x="34.94" y="328.1" font-size="16.2" fill="#1a1a1a" textLength="34.76" lengthAdjust="spacingAndGlyphs">1.00</text>
<line x1="73.4" y1="378.7" x2="77.5" y2="378.7" stroke="#222" stroke-width="1.1"/>
<text x="22.48" y="384.7" font-size="16.2" fill="#1a1a1a" textLength="12.02" lengthAdjust="spacingAndGlyphs">−</text>
<text x="34.94" y="384.7" font-size="16.2" fill="#1a1a1a" textLength="34.81" lengthAdjust="spacingAndGlyphs">1.25</text>
<line x1="73.4" y1="435.3" x2="77.5" y2="435.3" stroke="#222" stroke-width="1.1"/>
<text x="22.48" y="441.3" font-size="16.2" fill="#1a1a1a" textLength="12.02" lengthAdjust="spacingAndGlyphs">−</text>
<text x="34.94" y="441.3" font-size="16.2" fill="#1a1a1a" textLength="34.76" lengthAdjust="spacingAndGlyphs">1.50</text>
<line x1="125.4" y1="480.5" x2="125.4" y2="484.6" stroke="#222" stroke-width="1.1"/>
<text x="120.57" y="500.2" font-size="16.2" fill="#1a1a1a" textLength="9.66" lengthAdjust="spacingAndGlyphs">0</text>
<line x1="221.62" y1="480.5" x2="221.62" y2="484.6" stroke="#222" stroke-width="1.1"/>
<text x="211.3" y="500.2" font-size="16.2" fill="#1a1a1a" textLength="19.97" lengthAdjust="spacingAndGlyphs">10</text>
<line x1="317.84" y1="480.5" x2="317.84" y2="484.6" stroke="#222" stroke-width="1.1"/>
<text x="307.63" y="500.2" font-size="16.2" fill="#1a1a1a" textLength="20.22" lengthAdjust="spacingAndGlyphs">20</text>
<line x1="414.06" y1="480.5" x2="414.06" y2="484.6" stroke="#222" stroke-width="1.1"/>
<text x="404.08" y="500.2" font-size="16.2" fill="#1a1a1a" textLength="19.99" lengthAdjust="spacingAndGlyphs">30</text>
<line x1="510.28" y1="480.5" x2="510.28" y2="484.6" stroke="#222" stroke-width="1.1"/>
<text x="500.47" y="500.2" font-size="16.2" fill="#1a1a1a" textLength="19.91" lengthAdjust="spacingAndGlyphs">40</text>
<line x1="606.5" y1="480.5" x2="606.5" y2="484.6" stroke="#222" stroke-width="1.1"/>
<text x="596.37" y="500.2" font-size="16.2" fill="#1a1a1a" textLength="20.24" lengthAdjust="spacingAndGlyphs">50</text>
<text x="342.66" y="520.3" font-size="16" fill="#1a1a1a" textLength="9.2" lengthAdjust="spacingAndGlyphs" font-style="italic">δ</text>
<text x="353.67" y="514.6" font-size="10.9" fill="#1a1a1a" textLength="13.56" lengthAdjust="spacingAndGlyphs">18</text>
<text x="367.96" y="520.4" font-size="15.6" fill="#1a1a1a" textLength="12.08" lengthAdjust="spacingAndGlyphs">O</text>
<text x="384.57" y="520.4" font-size="15.6" fill="#1a1a1a" textLength="33.17" lengthAdjust="spacingAndGlyphs">(‰)</text>
<text x="-0.46" y="0.2" font-size="15.6" fill="#1a1a1a" textLength="10.33" lengthAdjust="spacingAndGlyphs" transform="translate(13.8,279.3) rotate(-90)">Δ</text>
<polygon points="3.3,266.9 4.6,265.7 7.9,268.4 7.5,268.9" fill="#1a1a1a"/>
<text x="13.48" y="-4.9" font-size="10.9" fill="#1a1a1a" textLength="13.43" lengthAdjust="spacingAndGlyphs" transform="translate(13.8,279.3) rotate(-90)">17</text>
<text x="28.25" y="0.2" font-size="15.6" fill="#1a1a1a" textLength="10.71" lengthAdjust="spacingAndGlyphs" transform="translate(13.8,279.3) rotate(-90)">O</text>
<text x="44.88" y="0.2" font-size="15.6" fill="#1a1a1a" textLength="32.85" lengthAdjust="spacingAndGlyphs" transform="translate(13.8,279.3) rotate(-90)">(‰)</text>
</svg>
</body></html>
